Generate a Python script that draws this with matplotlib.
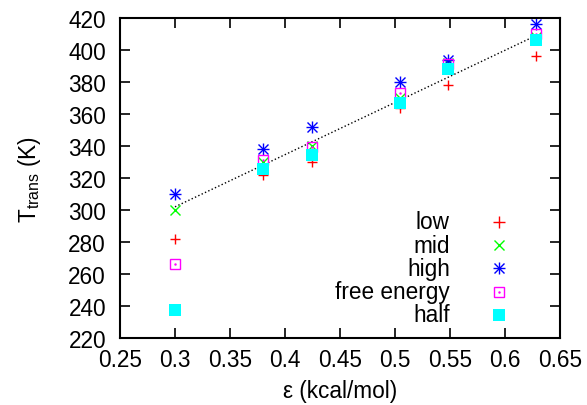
import numpy as np
import matplotlib
matplotlib.use("Agg")
import matplotlib.pyplot as plt

plt.rcParams["font.family"] = ["Liberation Sans", "DejaVu Sans"]
plt.rcParams["mathtext.fontset"] = "custom"
plt.rcParams["mathtext.rm"] = "Liberation Sans"

# transition temperatures vs. epsilon
eps = [0.3, 0.38, 0.425, 0.505, 0.548, 0.628]
t_low = [282, 322, 330, 364, 378, 396]
t_mid = [300, 330, 340, 370, 392, 408]
t_high = [310, 338, 352, 380, 394, 416]
t_free = [266, 331, 339.5, 373, 391, 410]
t_half = [237.5, 325.5, 334.5, 367, 388, 406]

# linear fit drawn as dotted line
fit_x = [0.3, 0.628]
fit_y = [302, 409]

fig = plt.figure(figsize=(5.87, 4.06), dpi=100)
ax = fig.add_axes([0.2044, 0.165, 0.7496, 0.788])

ax.plot(fit_x, fit_y, ":", color="black", lw=1)

fs = 16.3
ax.plot(eps, t_low, "+", color="red", ms=7.5, mew=1)
ax.plot(eps, t_mid, "x", color="#00ff00", ms=7, mew=1)
ax.plot(eps, t_high, "+", color="blue", ms=8, mew=1)
ax.plot(eps, t_high, "x", color="blue", ms=6.5, mew=1)
ax.plot(eps, t_free, "s", mfc="none", mec="magenta", ms=7.5, mew=1)
ax.plot(eps, t_free, ".", color="magenta", ms=1.5)
ax.plot(eps, t_half, "s", color="cyan", ms=8, mew=0)

ax.set_xlim(0.25, 0.65)
ax.set_ylim(220, 420)
ax.set_xticks(np.arange(0.25, 0.651, 0.05))
ax.set_xticklabels(["0.25", "0.3", "0.35", "0.4", "0.45", "0.5", "0.55", "0.6", "0.65"])
ax.set_yticks(np.arange(220, 421, 20))
ax.tick_params(direction="in", length=7, width=1.2, top=True, right=True,
               labelsize=fs)
ax.tick_params(axis="x", pad=7)
ax.tick_params(axis="y", pad=10)
for s in ax.spines.values():
    s.set_linewidth(1.5)

ax.set_xlabel("ε (kcal/mol)", fontsize=fs, labelpad=6)
ax.set_ylabel(r"T$_{\mathrm{trans}}$ (K)", fontsize=fs, labelpad=18)

# key, right-aligned labels with markers to their right
names = ["low", "mid", "high", "free energy", "half"]
tx = (450 - 120) / 440
mx = (499 - 120) / 440
tr = ax.transAxes
kys = [(339 - (222.7 + 23.3 * i)) / 320 for i in range(5)]
for name, y in zip(names, kys):
    ax.text(tx, y, name, transform=tr, ha="right", va="center", fontsize=fs)
ax.plot([mx], [kys[0]], "+", color="red", ms=8, mew=1, transform=tr, clip_on=False)
ax.plot([mx], [kys[1]], "x", color="#00ff00", ms=7, mew=1, transform=tr, clip_on=False)
ax.plot([mx], [kys[2]], "+", color="blue", ms=8, mew=1, transform=tr, clip_on=False)
ax.plot([mx], [kys[2]], "x", color="blue", ms=6.5, mew=1, transform=tr, clip_on=False)
ax.plot([mx], [kys[3]], "s", mfc="none", mec="magenta", ms=7.5, mew=1, transform=tr, clip_on=False)
ax.plot([mx], [kys[3]], ".", color="magenta", ms=1.5, transform=tr, clip_on=False)
ax.plot([mx], [kys[4]], "s", color="cyan", ms=8, mew=0, transform=tr, clip_on=False)

fig.savefig("out.png", dpi=100)
